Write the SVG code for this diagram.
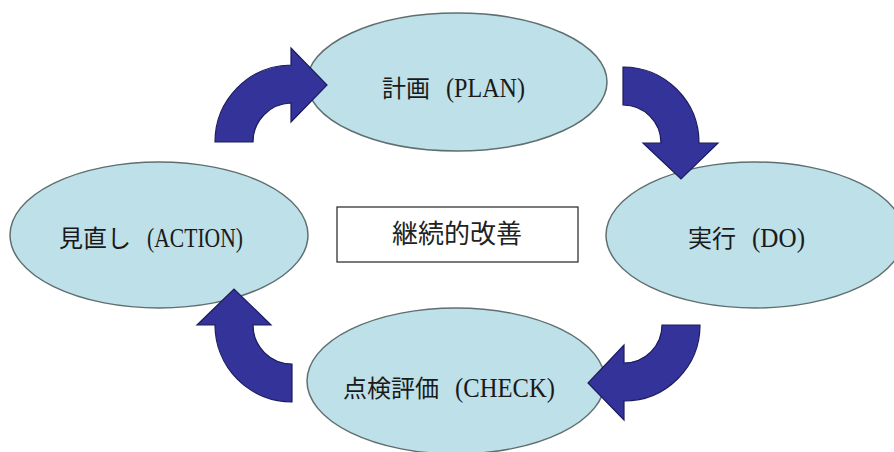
<svg xmlns="http://www.w3.org/2000/svg" width="894" height="452" viewBox="0 0 894 452">
<style>
.node ellipse{fill:#BEE0E8;stroke:#5F6F70;stroke-width:1.5}
.lbl{font-family:"Liberation Serif","Noto Sans CJK JP",serif;font-size:24px;fill:#1a1a1a}
.lat{font-size:27px}
.arrow{fill:#333399;stroke:#1C1C5E;stroke-width:1.2;stroke-linejoin:miter}
.center{font-family:"Noto Sans CJK JP","Noto Sans",sans-serif;font-size:26px;fill:#222}
</style>
<rect width="894" height="452" fill="#fff"/>
<g id="plan" class="node">
<ellipse cx="457" cy="82" rx="150" ry="69"/>
<text class="lbl" y="97"><tspan x="382">計画</tspan><tspan class="lat" x="446" textLength="79" lengthAdjust="spacingAndGlyphs">(PLAN)</tspan></text>
</g>
<g id="do" class="node">
<ellipse cx="755" cy="235" rx="149" ry="73"/>
<text class="lbl" y="247"><tspan x="688">実行</tspan><tspan class="lat" x="752" textLength="53" lengthAdjust="spacingAndGlyphs">(DO)</tspan></text>
</g>
<g id="check" class="node">
<ellipse cx="456" cy="381" rx="149" ry="73"/>
<text class="lbl" y="397"><tspan x="343">点検評価</tspan><tspan class="lat" x="455" textLength="100" lengthAdjust="spacingAndGlyphs">(CHECK)</tspan></text>
</g>
<g id="action" class="node">
<ellipse cx="159" cy="235" rx="149" ry="73"/>
<text class="lbl" y="247"><tspan x="59">見直し</tspan><tspan class="lat" x="147" textLength="96" lengthAdjust="spacingAndGlyphs">(ACTION)</tspan></text>
</g>
<g id="kaizen">
<rect x="337" y="207" width="241" height="55" fill="#fff" stroke="#222" stroke-width="1.2"/>
<text class="center" x="457" y="243" text-anchor="middle">継続的改善</text>
</g>
<g id="connectors">
<path class="arrow" d="M215,142 A77,77 0 0 1 291,65 L291,48 L327,85 L291,122 L291,103 A39,39 0 0 0 253,142 Z"/>
<path class="arrow" d="M623,67 A76,76 0 0 1 699,143 L718,143 L681,179 L643,143 L661,143 A38,38 0 0 0 623,105 Z"/>
<path class="arrow" d="M662,325 L700,325 A76,76 0 0 1 624,401 L624,420 L588,383 L624,345 L624,363 A38,38 0 0 0 662,325 Z"/>
<path class="arrow" d="M292,364 L292,402 A77,77 0 0 1 215,325 L197,325 L234,289 L271,325 L253,325 A39,39 0 0 0 292,364 Z"/>
</g>
</svg>
